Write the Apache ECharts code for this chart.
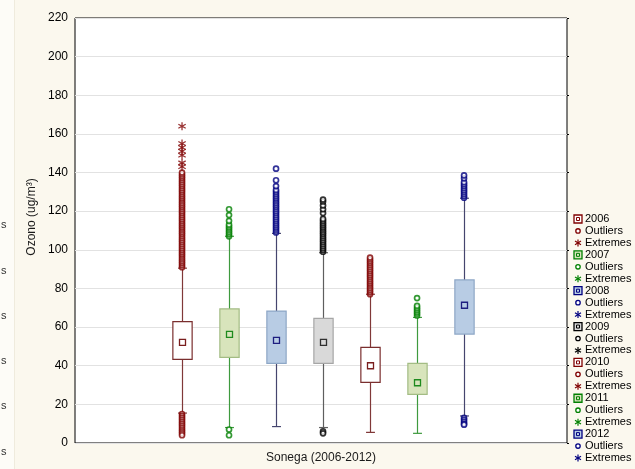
<!DOCTYPE html>
<html>
<head>
<meta charset="utf-8">
<script src="https://cdn.jsdelivr.net/npm/echarts@6/dist/echarts.min.js"></script>
<style>
html,body{margin:0;padding:0;background:#FBF8EE;}
#chart{width:635px;height:469px;}
</style>
</head>
<body>
<div id="chart"></div>
<script>
// ---- data ----
const categories = ['2006', '2007', '2008', '2009', '2010', '2011', '2012'];
const whiskerLow  = [15.5, 8, 8.5, 8, 5.5, 5, 14];
const q1          = [43.3, 44.3, 41.2, 41.2, 31.4, 25.2, 56.4];
const medians     = [52.1, 56.2, 53.1, 52.1, 40.0, 31.2, 71.3];
const q3          = [62.8, 69.4, 68.3, 64.5, 49.5, 41.2, 84.4];
const whiskerHigh = [90.5, 107, 108.5, 98.5, 77, 65, 126.7];

const outliers2006 = [91,92,93,94,95,96,97,98,99,100,101,102,103,104,105,106,107,108,109,110,111,112,113,114,115,116,117,118,119,120,121,122,123,124,125,126,127,128,129,130,131,132,133,134,135,136,137,138,139,140,
                      15,14,13,12,11,10,9,8,7,6,5,4];
const outliers2007 = [107,108,109,110,111,112,113,115,118,121, 7, 4];
const outliers2008 = [109,110,111,112,113,114,115,116,117,118,119,120,121,122,123,124,125,126,127,128,129,130,131,133,136,142];
const outliers2009 = [99,100,101,102,103,104,105,106,107,108,109,110,111,112,113,114,115,116,119,121,123,125,126, 6, 5];
const outliers2010 = [77,78,79,80,81,82,83,84,85,86,87,88,89,90,91,92,93,94,95,96];
const outliers2011 = [66,67,68,69,70,71,75];
const outliers2012 = [127,128,129,130,131,132,133,134,135,137,138.5, 13,12,11,10,9.5];
const extremes2006 = [143,145,149,151,153,155,164];

const outliersByYear = [outliers2006, outliers2007, outliers2008, outliers2009, outliers2010, outliers2011, outliers2012];
const extremesByYear = [extremes2006, [], [], [], [], [], []];
const yTicks = [0, 20, 40, 60, 80, 100, 120, 140, 160, 180, 200, 220];

// ---- styles ----
const pointColor   = ['#800000', '#008000', '#000080', '#000000', '#800000', '#008000', '#000080'];
const whiskerColor = ['#803838', '#3E9A3E', '#45456E', '#5E5E5E', '#803838', '#3E9A3E', '#45456E'];
const boxStroke    = ['#7A2E2E', '#A3BC84', '#8DA7C6', '#A6A6A6', '#7A2E2E', '#A3BC84', '#8DA7C6'];
const boxFill      = ['#FFFFFF', '#D8E4BC', '#B8CCE4', '#D9D9D9', '#FFFFFF', '#D8E4BC', '#B8CCE4'];
const medStroke    = ['#7A1E1E', '#1E8A1E', '#1E1E80', '#303030', '#7A1E1E', '#1E8A1E', '#1E1E80'];
const FONT = "'Liberation Sans', Arial, sans-serif";
const STAR = 'path://M-1.5,10L1.5,10L1.5,-10L-1.5,-10Z M7.91,6.3L9.41,3.7L-7.91,-6.3L-9.41,-3.7Z M-9.41,3.7L-7.91,6.3L9.41,-3.7L7.91,-6.3Z';

const boxData = categories.map((c, i) => [i, whiskerLow[i], q1[i], medians[i], q3[i], whiskerHigh[i]]);

function renderBox(params, api) {
  const i = api.value(0);
  const band = api.size([1, 0])[0];
  const bw = band * 0.41, cw = band * 0.19;
  const pLow = api.coord([i, api.value(1)]);
  const pQ1 = api.coord([i, api.value(2)]);
  const pMed = api.coord([i, api.value(3)]);
  const pQ3 = api.coord([i, api.value(4)]);
  const pHigh = api.coord([i, api.value(5)]);
  const x = Math.round(pMed[0]) + 0.5;
  const ws = {stroke: whiskerColor[i], lineWidth: 1.2};
  return {
    type: 'group',
    children: [
      {type: 'line', shape: {x1: x, y1: pLow[1], x2: x, y2: pHigh[1]}, style: ws},
      {type: 'line', shape: {x1: x - cw / 2, y1: pLow[1], x2: x + cw / 2, y2: pLow[1]}, style: ws},
      {type: 'line', shape: {x1: x - cw / 2, y1: pHigh[1], x2: x + cw / 2, y2: pHigh[1]}, style: ws},
      {type: 'rect', shape: {x: x - bw / 2, y: pQ3[1], width: bw, height: pQ1[1] - pQ3[1]},
        style: {fill: boxFill[i], stroke: boxStroke[i], lineWidth: 1.2}},
      {type: 'rect', shape: {x: x - 3, y: pMed[1] - 3, width: 6, height: 6},
        style: {fill: 'none', stroke: medStroke[i], lineWidth: 1.3}}
    ]
  };
}

const series = [{
  type: 'custom',
  renderItem: renderBox,
  data: boxData,
  encode: {x: 0, y: [1, 2, 3, 4, 5]},
  z: 2,
  silent: true
}];
outliersByYear.forEach((arr, i) => {
  series.push({
    type: 'scatter',
    data: arr.map(v => [i, v]),
    symbol: 'circle',
    symbolSize: 5,
    itemStyle: {color: '#FFFFFF', borderColor: pointColor[i], borderWidth: 1.7},
    z: 3, silent: true
  });
});
extremesByYear.forEach((arr, i) => {
  if (!arr.length) return;
  series.push({
    type: 'scatter',
    data: arr.map(v => [i, v]),
    symbol: STAR,
    symbolSize: 8,
    itemStyle: {color: pointColor[i]},
    z: 4, silent: true
  });
});

// ---- legend (graphic) ----
const legendItems = [];
const LX = 578, LT = 219, LS = 11.95;
categories.forEach((c, i) => {
  const y0 = LT + i * 3 * LS;
  legendItems.push({type: 'rect', shape: {x: LX - 4, y: y0 - 4, width: 8, height: 8},
    style: {fill: boxFill[i], stroke: pointColor[i], lineWidth: 1.3}});
  legendItems.push({type: 'rect', shape: {x: LX - 1.5, y: y0 - 1.5, width: 3, height: 3},
    style: {fill: 'none', stroke: pointColor[i], lineWidth: 1}});
  legendItems.push({type: 'text', x: 585, y: y0, style: {text: c, font: '11px ' + FONT, fill: '#000', textVerticalAlign: 'middle'}});
  const y1 = y0 + LS;
  legendItems.push({type: 'circle', shape: {cx: LX, cy: y1, r: 2.2}, style: {fill: '#fff', stroke: pointColor[i], lineWidth: 1.3}});
  legendItems.push({type: 'text', x: 585, y: y1, style: {text: 'Outliers', font: '11px ' + FONT, fill: '#000', textVerticalAlign: 'middle'}});
  const y2 = y0 + 2 * LS;
  [[0, -3.5, 0, 3.5], [-3, -1.8, 3, 1.8], [-3, 1.8, 3, -1.8]].forEach(s => {
    legendItems.push({type: 'line', shape: {x1: LX + s[0], y1: y2 + s[1], x2: LX + s[2], y2: y2 + s[3]},
      style: {stroke: pointColor[i], lineWidth: 1.2}});
  });
  legendItems.push({type: 'text', x: 585, y: y2, style: {text: 'Extremes', font: '11px ' + FONT, fill: '#000', textVerticalAlign: 'middle'}});
});

// left strip with cut-off text fragments
const fragY = [225, 271, 316, 361, 406, 452];
const leftStrip = [{type: 'rect', shape: {x: 0, y: 0, width: 14, height: 469}, style: {fill: '#FDFCF7'}, z: -1},
  {type: 'line', shape: {x1: 14.5, y1: 0, x2: 14.5, y2: 469}, style: {stroke: '#EFEBDD', lineWidth: 1}}];
fragY.forEach(y => leftStrip.push({type: 'text', x: 1, y: y, style: {text: 's', font: '11px ' + FONT, fill: '#333', textVerticalAlign: 'middle'}}));

const chart = echarts.init(document.getElementById('chart'), null, {renderer: 'canvas'});
chart.setOption({
  backgroundColor: '#FBF8EE',
  animation: false,
  grid: {left: 75, top: 18, right: 68, bottom: 25, show: true, backgroundColor: '#FFFFFF', borderColor: '#000', borderWidth: 1},
  xAxis: {
    type: 'value', min: -2.277, max: 8.19,
    axisLine: {show: false}, axisTick: {show: false}, axisLabel: {show: false}, splitLine: {show: false},
    name: 'Sonega (2006-2012)', nameLocation: 'middle', nameGap: 9,
    nameTextStyle: {fontFamily: FONT, fontSize: 12, color: '#1a1a1a'}
  },
  yAxis: [{
    type: 'value', min: yTicks[0], max: yTicks[yTicks.length - 1], interval: 20,
    axisLine: {show: false}, axisTick: {show: false},
    axisLabel: {fontFamily: FONT, fontSize: 12, color: '#000', margin: 7},
    splitLine: {show: true, lineStyle: {color: '#E2E2E2', width: 1}}
  }, {
    type: 'value', position: 'right', min: yTicks[0], max: yTicks[yTicks.length - 1], interval: 20,
    axisLine: {show: false}, axisTick: {show: true, length: 2, lineStyle: {color: '#000'}},
    axisLabel: {show: false}, splitLine: {show: false}
  }],
  graphic: [
    ...leftStrip,
    {type: 'text', x: 32, y: 217, rotation: Math.PI / 2,
      style: {text: 'Ozono (ug/m³)', font: '12px ' + FONT, fill: '#1a1a1a', textAlign: 'center', textVerticalAlign: 'middle'}},
    ...legendItems
  ],
  series: series
});
</script>
</body>
</html>
